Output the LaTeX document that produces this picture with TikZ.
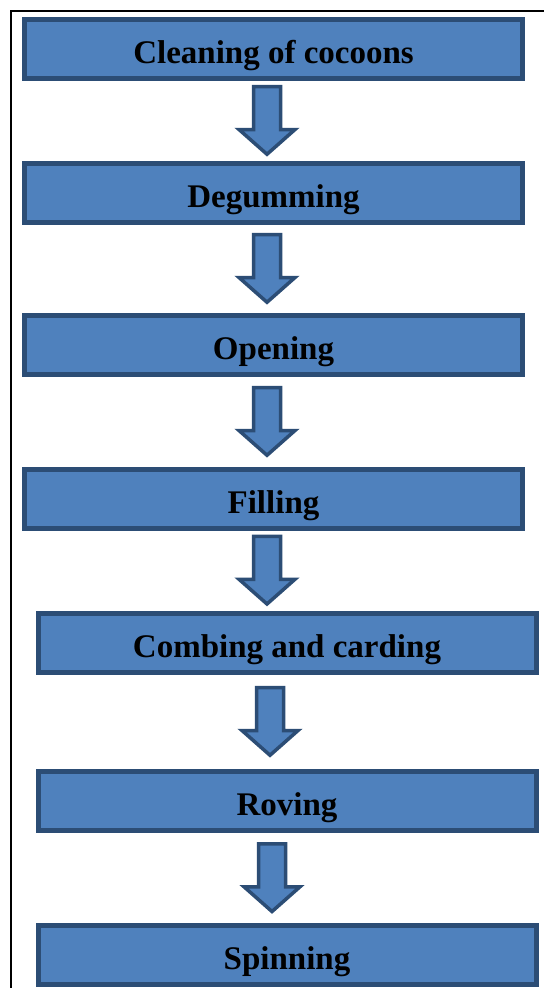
\documentclass[tikz,border=0pt]{standalone}
\usepackage{fontspec}
\setmainfont{Liberation Serif}
\usetikzlibrary{positioning, calc}
\definecolor{cboite}{HTML}{4F81BD}
\definecolor{cbord}{HTML}{2C4D75}

% fat block arrow centred in the gap between two boxes
\newcommand\flowarrow[3]{%
  \draw[fleche] let \p1=(#1.south), \p2=(#2.north), \n1={(\y1+\y2)/2} in
    (#3-13.5,\n1+34.25) -- (#3+13.5,\n1+34.25) -- (#3+13.5,\n1-8.75)
    -- (#3+28,\n1-8.75) -- (#3,\n1-33.5) -- (#3-28,\n1-8.75)
    -- (#3-13.5,\n1-8.75) -- cycle;}

\begin{document}
\begin{tikzpicture}[x=1pt, y=1pt,
    etape/.style={draw=cbord, fill=cboite, line width=5pt,
                  minimum width=498pt, minimum height=59pt, inner sep=0pt,
                  text height=29pt, text depth=0pt,
                  font=\fontsize{33}{36}\selectfont\bfseries},
    fleche/.style={draw=cbord, fill=cboite, line width=3.5pt, line join=miter}]

  \fill[white] (0,0) rectangle (544,-988);
  \useasboundingbox (0,0) rectangle (544,-988);
  \draw[line width=2pt] (10.5,-988) -- (10.5,-11) -- (544,-11);

  \node[etape] (a) at (273.5,-49)  {Cleaning of cocoons};
  \node[etape] (b) at (273.5,-192.5) {Degumming};
  \node[etape] (c) at (273.5,-345) {Opening};
  \node[etape] (d) at (273.5,-498.5) {Filling};
  \node[etape] (e) at (287,-642.5) {Combing and carding};
  \node[etape] (f) at (287,-801)   {Roving};
  \node[etape] (g) at (287,-955)   {Spinning};

  \flowarrow{a}{b}{267}
  \flowarrow{b}{c}{267}
  \flowarrow{c}{d}{267}
  \flowarrow{d}{e}{267}
  \flowarrow{e}{f}{270}
  \flowarrow{f}{g}{272}
\end{tikzpicture}
\end{document}
